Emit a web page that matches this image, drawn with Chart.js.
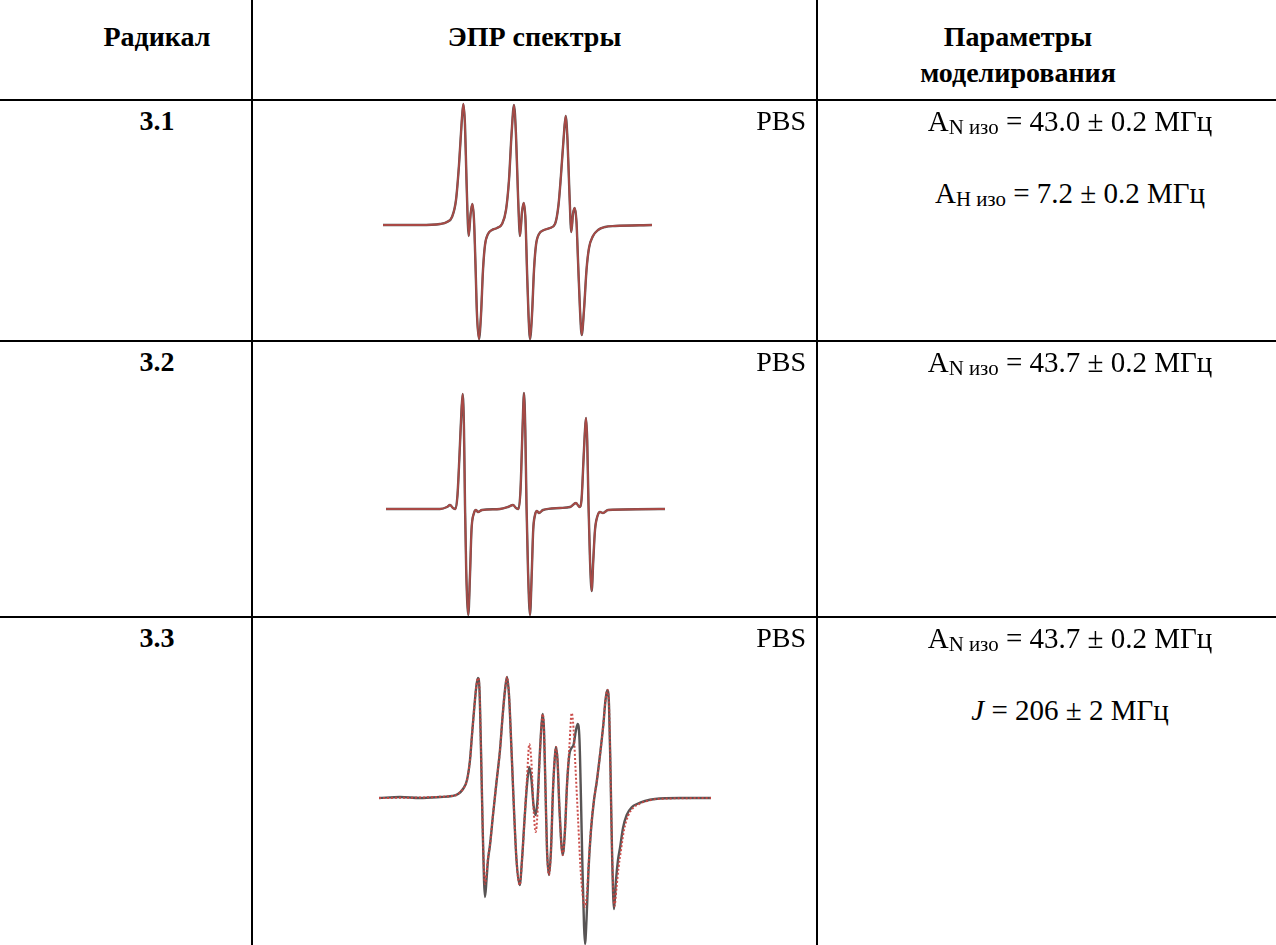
<!DOCTYPE html>
<html>
<head>
    <meta charset="utf-8">
    <title>ЭПР спектры</title>
    <script src="https://cdn.jsdelivr.net/npm/chart.js"></script>
    <style>
        body { margin: 0; background: #fff; }
        #page {
            position: relative; width: 1276px; height: 945px; overflow: hidden;
            font-family: "Liberation Serif", "Times New Roman", serif; font-size: 28px; color: #000;
        }
        .hl { position: absolute; left: 0; width: 1276px; height: 2px; background: #000; z-index: 2; }
        .vl { position: absolute; top: 0; width: 2px; height: 945px; background: #000; z-index: 2; }
        .t { position: absolute; height: 36px; line-height: 36px; white-space: nowrap; z-index: 3; }
        .c { text-align: center; }
        .r { text-align: right; }
        .b { font-weight: bold; }
        .p { left: 870px; width: 400px; text-align: center; font-size: 29px; }
        sub { font-size: 0.72em; vertical-align: -0.12em; line-height: 0; }
        canvas { position: absolute; z-index: 1; }
    </style>
</head>
<body>
<div id="page">
    <div class="hl" style="top:99px"></div>
    <div class="hl" style="top:340px"></div>
    <div class="hl" style="top:616px"></div>
    <div class="vl" style="left:251px"></div>
    <div class="vl" style="left:816px"></div>

    <div class="t c b" style="left:62px;width:190px;top:19px">Радикал</div>
    <div class="t c b" style="left:253px;width:563px;top:19px">ЭПР спектры</div>
    <div class="t c b" style="left:818px;width:400px;top:19px">Параметры</div>
    <div class="t c b" style="left:818px;width:400px;top:55px">моделирования</div>

    <div class="t c b" style="left:62px;width:190px;top:103px">3.1</div>
    <div class="t r" style="left:253px;width:553px;top:103px">PBS</div>
    <div class="t p" style="top:103px">A<sub>N изо</sub> = 43.0 ± 0.2 МГц</div>
    <div class="t p" style="top:175px">A<sub>H изо</sub> = 7.2 ± 0.2 МГц</div>

    <div class="t c b" style="left:62px;width:190px;top:344px">3.2</div>
    <div class="t r" style="left:253px;width:553px;top:344px">PBS</div>
    <div class="t p" style="top:344px">A<sub>N изо</sub> = 43.7 ± 0.2 МГц</div>

    <div class="t c b" style="left:62px;width:190px;top:620px">3.3</div>
    <div class="t r" style="left:253px;width:553px;top:620px">PBS</div>
    <div class="t p" style="top:620px">A<sub>N изо</sub> = 43.7 ± 0.2 МГц</div>
    <div class="t p" style="top:692px"><i>J</i> = 206 ± 2 МГц</div>

    <canvas id="spec31" width="563" height="239" style="left:253px;top:101px"></canvas>
    <canvas id="spec32" width="563" height="274" style="left:253px;top:342px"></canvas>
    <canvas id="spec33" width="563" height="327" style="left:253px;top:618px"></canvas>
</div>

<script>
    // field offset (a.u.) and first-derivative signal (a.u.)
    var field31 = [0, 37, 57, 64, 69, 73, 76, 78.5, 80.3, 82, 83.5, 85.7, 87.5, 89.3, 91, 92.5, 94, 96, 98, 100, 102, 105, 109, 114,
        119, 123, 126, 128.5, 131, 133, 135, 137, 139, 140.7, 142.5, 144, 145.5, 147, 149, 151, 153, 156, 161, 167,
        172, 175.5, 178, 180.5, 182.7, 184.5, 186.5, 188.3, 190, 191.7, 193.5, 195, 197, 198.7, 201, 203.5, 206, 210, 215, 222, 232, 269];
    var signal31 = [0, 0, 1, 3, 8, 25, 60, 100, 121, 100, 45, -11, 10, 21, 5, -40, -90, -114, -90, -45, -20, -9, -5, -3,
        1, 15, 45, 90, 120, 90, 30, -11, 13, 22, 5, -45, -90, -114, -90, -45, -20, -9, -5, -3,
        1, 20, 50, 85, 109, 85, 30, -7, 11, 17, 3, -35, -85, -110, -85, -45, -23, -11, -5, -2, -1, 0];

    var field32 = [0, 54, 61, 64, 67, 69.5, 71.5, 73.5, 75.5, 76.7, 78, 79, 80.2, 82.3, 84, 85.5, 88, 90, 92, 96,
        114, 122, 127, 130, 132.5, 134.5, 136.5, 138, 139.3, 140.5, 142, 144, 145.7, 147.2, 149, 151, 153, 157,
        174, 184, 190, 193.5, 195.5, 197.5, 199, 200, 201.2, 202.5, 204, 205.7, 207.3, 209, 211.5, 214, 217, 222, 279];
    var signal32 = [0, 0, 2, 4, 1, 0, 14, 54, 99, 115, 79, 4, -61, -106, -66, -21, -4, -1, -3, -1,
        0, 2, 4, 1, 0, 19, 79, 116, 79, 4, -61, -106, -66, -21, -6, -2, -4, -1,
        1, 2, 6, 2, 9, 49, 79, 91, 69, 4, -51, -82, -51, -21, -7, -3, -4, -1, 0];

    var field33 = [0, 21, 41, 61, 73, 79, 84, 88, 91, 93, 95.5, 97.5, 99, 100.5, 102, 103.5, 105, 106, 107.5, 109, 111, 114,
        117.5, 121, 123.7, 126, 128, 130, 132.5, 135, 137.5, 140.7, 143, 145.5, 148, 150.3, 152.5, 154.5, 156.7, 158.5,
        160.5, 162.5, 163.7, 165, 166.5, 168, 170, 172, 174, 176, 177, 178.5, 180.5, 183.7, 186, 188, 190.3, 192.5,
        194.5, 197, 198.7, 200.5, 202, 203.5, 205, 206, 207.5, 209.5, 212, 215, 217.7, 221, 224.3, 226.5, 228.3, 230,
        231.5, 233, 235, 237, 239, 241, 244, 247.7, 253, 258, 266, 276, 301, 332];
    var signal33 = [0, 1, 0, 1, 2, 4, 9, 18, 38, 63, 93, 113, 120, 108, 48, -22, -82, -99, -82, -62, -47, -17,
        16, 48, 83, 108, 121, 103, 48, -12, -62, -87, -62, -22, 13, 31, 18, -7, -17, -2,
        38, 73, 84, 68, 8, -52, -77, -52, 8, 43, 51, 38, -12, -57, -32, 13, 43, 50,
        53, 68, 74, 58, -2, -72, -127, -146, -122, -72, -32, -2, 16, 43, 73, 98, 108, 93,
        28, -52, -111, -82, -62, -50, -30, -17, -9, -6, -3, -1, 0, 0];

    // simulated spectrum for 3.3
    var fieldSim33 = [0, 73, 79, 84, 88, 91, 93, 95.5, 97.5, 99, 100.5, 102, 103.5, 105, 106, 107.5, 109, 111, 114, 117.5,
        121, 123.7, 126, 128, 130, 132.5, 135, 137.5, 140.7, 143, 145.5, 148, 150.3, 152.5, 154.5, 156.7, 158.5, 160.5,
        162.5, 163.7, 165, 166.5, 168, 170, 172, 174, 176, 177, 178.5, 180.5, 183.7, 186, 188, 190.3, 192.7, 194.5,
        196.5, 199, 201.5, 204, 206, 208, 210, 212.5, 215, 217.7, 221, 224.3, 226.5, 228.3, 230, 231.5, 233, 235.5,
        237.5, 239.5, 242, 245, 249, 254, 260, 268, 278, 332];
    var signalSim33 = [0, 2, 4, 9, 18, 38, 63, 93, 113, 120, 108, 48, -22, -75, -86, -75, -60, -47, -17, 16,
        48, 83, 108, 121, 103, 48, -12, -62, -87, -62, -22, 20, 54, 35, -10, -34, -15, 35,
        73, 84, 68, 8, -52, -77, -52, 8, 43, 51, 38, -12, -57, -32, 13, 50, 85, 70,
        30, -20, -70, -100, -109, -95, -60, -25, -2, 16, 43, 73, 98, 108, 93, 28, -52, -108,
        -90, -70, -52, -32, -18, -10, -6, -3, -1, 0];

    function points(xs, ys) {
        return xs.map(function (x, i) { return { x: x, y: ys[i] }; });
    }

    function drawSpectrum(id, originX, originY, exp, sim, simDashed) {
        var canvas = document.getElementById(id);
        var w = canvas.width, h = canvas.height;
        new Chart(canvas.getContext('2d'), {
            type: 'line',
            data: {
                // first dataset is painted last, so the simulation sits on top
                datasets: [{
                    data: sim,
                    borderColor: simDashed ? 'rgba(200, 70, 66, 0.95)' : 'rgba(178, 72, 68, 0.9)',
                    borderWidth: simDashed ? 2 : 1.8,
                    borderDash: simDashed ? [2, 2] : [],
                    cubicInterpolationMode: 'monotone',
                    pointRadius: 0,
                    clip: false
                }, {
                    data: exp,
                    borderColor: '#585454',
                    borderWidth: 2.4,
                    cubicInterpolationMode: 'monotone',
                    pointRadius: 0,
                    clip: false
                }]
            },
            options: {
                responsive: false,
                animation: false,
                devicePixelRatio: 1,
                layout: { padding: 0 },
                plugins: { legend: { display: false }, tooltip: { enabled: false } },
                scales: {
                    x: { type: 'linear', display: false, min: -originX, max: w - originX },
                    y: { display: false, min: originY - h, max: originY }
                }
            }
        });
    }

    drawSpectrum('spec31', 130, 124, points(field31, signal31), points(field31, signal31), false);
    drawSpectrum('spec32', 133, 167, points(field32, signal32), points(field32, signal32), false);
    drawSpectrum('spec33', 126, 180, points(field33, signal33), points(fieldSim33, signalSim33), true);
</script>
</body>
</html>
